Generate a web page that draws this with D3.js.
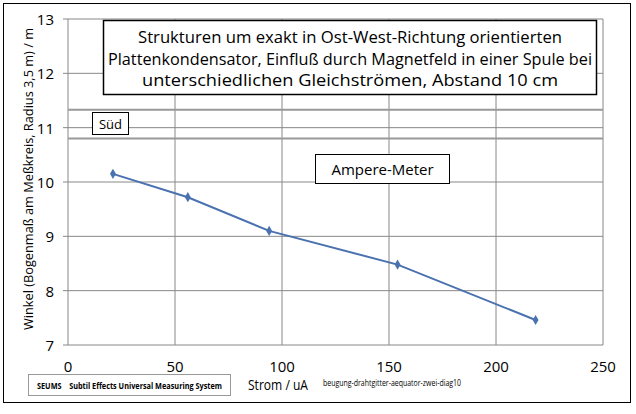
<!DOCTYPE html><html><head><meta charset="utf-8"><script src="https://cdn.jsdelivr.net/npm/d3@7"></script>
<style>body{margin:0;background:#fff}text{font-family:"Open Sans","Liberation Sans",sans-serif}</style></head><body><svg id="c" width="636" height="414"></svg><script>
const strom=[21,56,94,154,218.5];
const winkel=[10.15,9.72,9.1,8.48,7.46];
const xTicks=[0,50,100,150,200,250];
const yTicks=[7,8,9,10,11,12,13];
const svg=d3.select("#c");
svg.append("rect").attr("x",3.5).attr("y",3.5).attr("width",627).attr("height",399).attr("fill","none").attr("stroke","#000");
const x=d3.scaleLinear().domain([0,250]).range([68,603]);
const y=d3.scaleLinear().domain([7,13]).range([345,19]);
const g=svg.append("g");
xTicks.forEach(t=>g.append("line").attr("x1",x(t)).attr("x2",x(t)).attr("y1",y(13)).attr("y2",y(7)).attr("stroke","#888"));
yTicks.forEach(t=>g.append("line").attr("x1",x(0)-5).attr("x2",x(250)).attr("y1",y(t)).attr("y2",y(t)).attr("stroke","#888"));
[11.33,10.8].forEach(v=>g.append("line").attr("x1",x(0)).attr("x2",x(250)).attr("y1",y(v)).attr("y2",y(v)).attr("stroke","#999").attr("stroke-width",2));
xTicks.forEach(t=>g.append("text").attr("x",x(t)).attr("y",372).attr("text-anchor","middle").attr("font-size",15).text(t));
yTicks.forEach(t=>g.append("text").attr("x",54).attr("y",y(t)+6).attr("text-anchor","end").attr("font-size",15).text(t));
const pts=strom.map((s,i)=>[x(s),y(winkel[i])]);
g.append("path").attr("d",d3.line()(pts)).attr("fill","none").attr("stroke","#4a72b0").attr("stroke-width",2);
pts.forEach(p=>g.append("path").attr("transform",`translate(${p[0]},${p[1]})`).attr("d",d3.symbol(d3.symbolDiamond,30)()).attr("fill","#4a72b0"));
svg.append("text").attr("transform","translate(33,330) rotate(-90)").attr("font-size",13).attr("textLength",302).attr("lengthAdjust","spacingAndGlyphs").text("Winkel (Bogenmaß am Meßkreis, Radius 3,5 m) / m");
svg.append("rect").attr("x",103.5).attr("y",20.5).attr("width",493).attr("height",74).attr("fill","#fff").attr("stroke","#000").attr("stroke-width",1.5);
[["Strukturen um exakt in Ost-West-Richtung orientierten",424],["Plattenkondensator, Einfluß durch Magnetfeld in einer Spule bei",484],["unterschiedlichen Gleichströmen, Abstand 10 cm",416]].forEach((t,i)=>svg.append("text").attr("x",350-t[1]/2).attr("y",43+i*21.5).attr("font-size",16).attr("textLength",t[1]).attr("lengthAdjust","spacingAndGlyphs").text(t[0]));
svg.append("rect").attr("x",92.5).attr("y",112.5).attr("width",36).attr("height",22).attr("fill","#fff").attr("stroke","#000");
svg.append("text").attr("x",110.5).attr("y",129).attr("text-anchor","middle").attr("font-size",13).text("Süd");
svg.append("rect").attr("x",315.5).attr("y",154.5).attr("width",134).attr("height",29).attr("fill","#fff").attr("stroke","#000");
svg.append("text").attr("x",382.5).attr("y",175).attr("text-anchor","middle").attr("font-size",15).text("Ampere-Meter");
svg.append("rect").attr("x",28.5).attr("y",374.5).attr("width",202).attr("height",21).attr("fill","#fff").attr("stroke","#999");
svg.append("text").attr("x",37).attr("y",389).attr("font-size",9).attr("font-weight","bold").attr("textLength",185).attr("lengthAdjust","spacingAndGlyphs").attr("xml:space","preserve").text("SEUMS    Subtil Effects Universal Measuring System");
svg.append("text").attr("x",248).attr("y",390).attr("font-size",15).attr("textLength",60).attr("lengthAdjust","spacingAndGlyphs").text("Strom / uA");
svg.append("text").attr("x",323).attr("y",386).attr("font-size",9).attr("textLength",138).attr("lengthAdjust","spacingAndGlyphs").text("beugung-drahtgitter-aequator-zwei-diag10");
</script></body></html>
